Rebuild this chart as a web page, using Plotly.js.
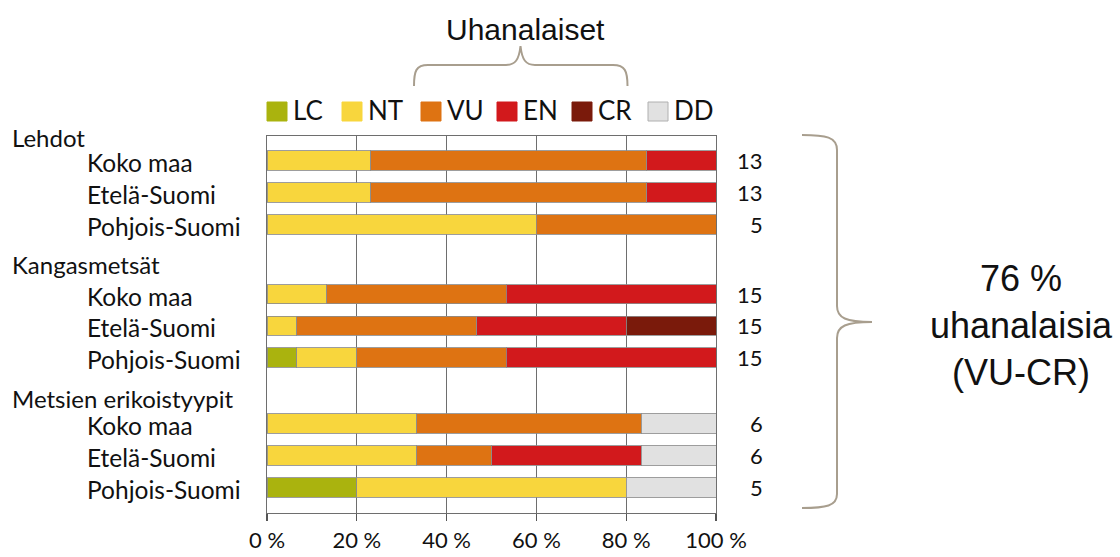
<!DOCTYPE html>
<html>
<head>
<meta charset="utf-8">
<script src="https://cdn.plot.ly/plotly-3.0.1.min.js"></script>
<style>html,body{margin:0;padding:0;background:#fff;}#chart{width:1120px;height:557px;}</style>
</head>
<body>
<div id="chart"></div>
<script>
// ---- data ----
const groups = ["Lehdot", "Kangasmetsät", "Metsien erikoistyypit"];
const subLabels = ["Koko maa", "Etelä-Suomi", "Pohjois-Suomi",
                   "Koko maa", "Etelä-Suomi", "Pohjois-Suomi",
                   "Koko maa", "Etelä-Suomi", "Pohjois-Suomi"];
const classes = ["LC", "NT", "VU", "EN", "CR", "DD"];
// number of habitat types per class (bars normalised to 100 %)
const LC = [0, 0, 0, 0, 0, 1, 0, 0, 1];
const NT = [3, 3, 3, 2, 1, 2, 2, 2, 3];
const VU = [8, 8, 2, 6, 6, 5, 3, 1, 0];
const EN = [2, 2, 0, 7, 5, 7, 0, 2, 0];
const CR = [0, 0, 0, 0, 3, 0, 0, 0, 0];
const DD = [0, 0, 0, 0, 0, 0, 1, 1, 1];
const totals = ["13", "13", "5", "15", "15", "15", "6", "6", "5"];
const xTickVals = [0, 20, 40, 60, 80, 100];
const xTickText = ["0 %", "20 %", "40 %", "60 %", "80 %", "100 %"];
const braceTopText = "Uhanalaiset";
const braceRightText = "76 %<br>uhanalaisia<br>(VU-CR)";

// ---- layout helpers (positions / styles) ----
const rowPos = [0, 1, 2, 4.18, 5.17, 6.16, 8.22, 9.22, 10.22];
const headerPos = [-0.72, 3.24, 7.44];
const colors = {LC: "#aab30e", NT: "#f8d63d", VU: "#de7312", EN: "#d2191c", CR: "#7a1a0b", DD: "#e1e1e1"};
const series = {LC, NT, VU, EN, CR, DD};
const L = 267, R = 716, T = 136, B = 513;
const px = p => (p - L) / (R - L);
const py = p => (B - p) / (B - T);
const labFont = "Lato, 'Open Sans', sans-serif";
const arial = "'Liberation Sans', Arial, sans-serif";

const traces = classes.map(c => ({
  type: "bar", orientation: "h", name: c,
  x: series[c], y: rowPos, width: 0.6,
  marker: {color: colors[c], line: {color: "rgba(140,140,140,0.85)", width: 1}},
  showlegend: false, hoverinfo: "name+x"
}));

const annotations = [];
groups.forEach((g, i) => annotations.push({
  text: g, xref: "paper", yref: "y", x: px(10), y: headerPos[i],
  xanchor: "left", yanchor: "middle", showarrow: false,
  font: {family: labFont, size: 24, color: "#111"}
}));
subLabels.forEach((s, i) => annotations.push({
  text: s, xref: "paper", yref: "y", x: px(85), y: rowPos[i], yshift: -2,
  xanchor: "left", yanchor: "middle", showarrow: false,
  font: {family: labFont, size: 24.5, color: "#111"}
}));
totals.forEach((t, i) => annotations.push({
  text: t, xref: "paper", yref: "y", x: px(765), y: rowPos[i],
  xanchor: "right", yanchor: "middle", showarrow: false,
  font: {family: labFont, size: 22, color: "#111"}
}));

// manual legend
const shapes = [];
const legX = [267, 342, 421, 497, 572, 648];
classes.forEach((c, i) => {
  shapes.push({type: "rect", xref: "paper", yref: "paper",
    x0: px(legX[i]), x1: px(legX[i] + 20), y0: py(121), y1: py(102),
    fillcolor: colors[c], line: {color: c === "DD" ? "#b0b0b0" : colors[c], width: 1}});
  annotations.push({text: c, xref: "paper", yref: "paper",
    x: px(legX[i] + 24), y: py(110.5), xanchor: "left", yanchor: "middle", showarrow: false,
    font: {family: labFont, size: 26, color: "#111"}});
});

// braces
function path(cmds) {
  return cmds.map(c => c[0] + c.slice(1).map((v, k) => (k % 2 === 0 ? px(v) : py(v)).toFixed(5)).join(",")).join(" ");
}
const braceColor = "#a89e8e";
shapes.push({type: "path", xref: "paper", yref: "paper", line: {color: braceColor, width: 2},
  path: path([["M", 414, 86], ["C", 414, 71, 416, 65, 428, 65], ["L", 506, 65],
              ["C", 515, 65, 519, 60, 520.5, 46], ["C", 522, 60, 526, 65, 535, 65],
              ["L", 613, 65], ["C", 625, 65, 627.5, 71, 627.5, 86]])});
shapes.push({type: "path", xref: "paper", yref: "paper", line: {color: braceColor, width: 2},
  path: path([["M", 802, 135], ["C", 826, 135, 837, 137, 837, 150], ["L", 837, 306],
              ["C", 837, 318, 846, 322, 872, 322], ["C", 846, 322, 837, 326, 837, 338],
              ["L", 837, 494], ["C", 837, 506, 826, 508, 802, 508]])});

annotations.push({text: braceTopText, xref: "paper", yref: "paper", x: px(525), y: py(29),
  xanchor: "center", yanchor: "middle", showarrow: false,
  font: {family: arial, size: 30, color: "#111"}});
annotations.push({text: braceRightText, xref: "paper", yref: "paper", x: px(1021), y: py(325),
  xanchor: "center", yanchor: "middle", showarrow: false, align: "center",
  font: {family: arial, size: 36, color: "#111"}});

const layout = {
  width: 1120, height: 557,
  margin: {l: L, r: 1120 - R, t: T, b: 557 - B, pad: 0},
  paper_bgcolor: "#fff", plot_bgcolor: "#fff",
  barmode: "stack", barnorm: "percent",
  showlegend: false,
  xaxis: {range: [0, 100], tickvals: xTickVals, ticktext: xTickText,
    showgrid: true, gridcolor: "#6e6e6e", gridwidth: 1.3,
    showline: true, mirror: true, linecolor: "#6e6e6e", linewidth: 1.3,
    ticks: "outside", ticklen: 7, tickcolor: "#555", tickwidth: 1.3,
    tickfont: {family: labFont, size: 22, color: "#111"}, zeroline: false, fixedrange: true},
  yaxis: {range: [11.02, -0.766], showticklabels: false, showgrid: false, zeroline: false,
    showline: true, mirror: true, linecolor: "#6e6e6e", linewidth: 1.3, ticks: "", fixedrange: true},
  annotations, shapes,
  font: {family: labFont}
};

Plotly.newPlot("chart", traces, layout, {displayModeBar: false, staticPlot: true});
</script>
</body>
</html>
